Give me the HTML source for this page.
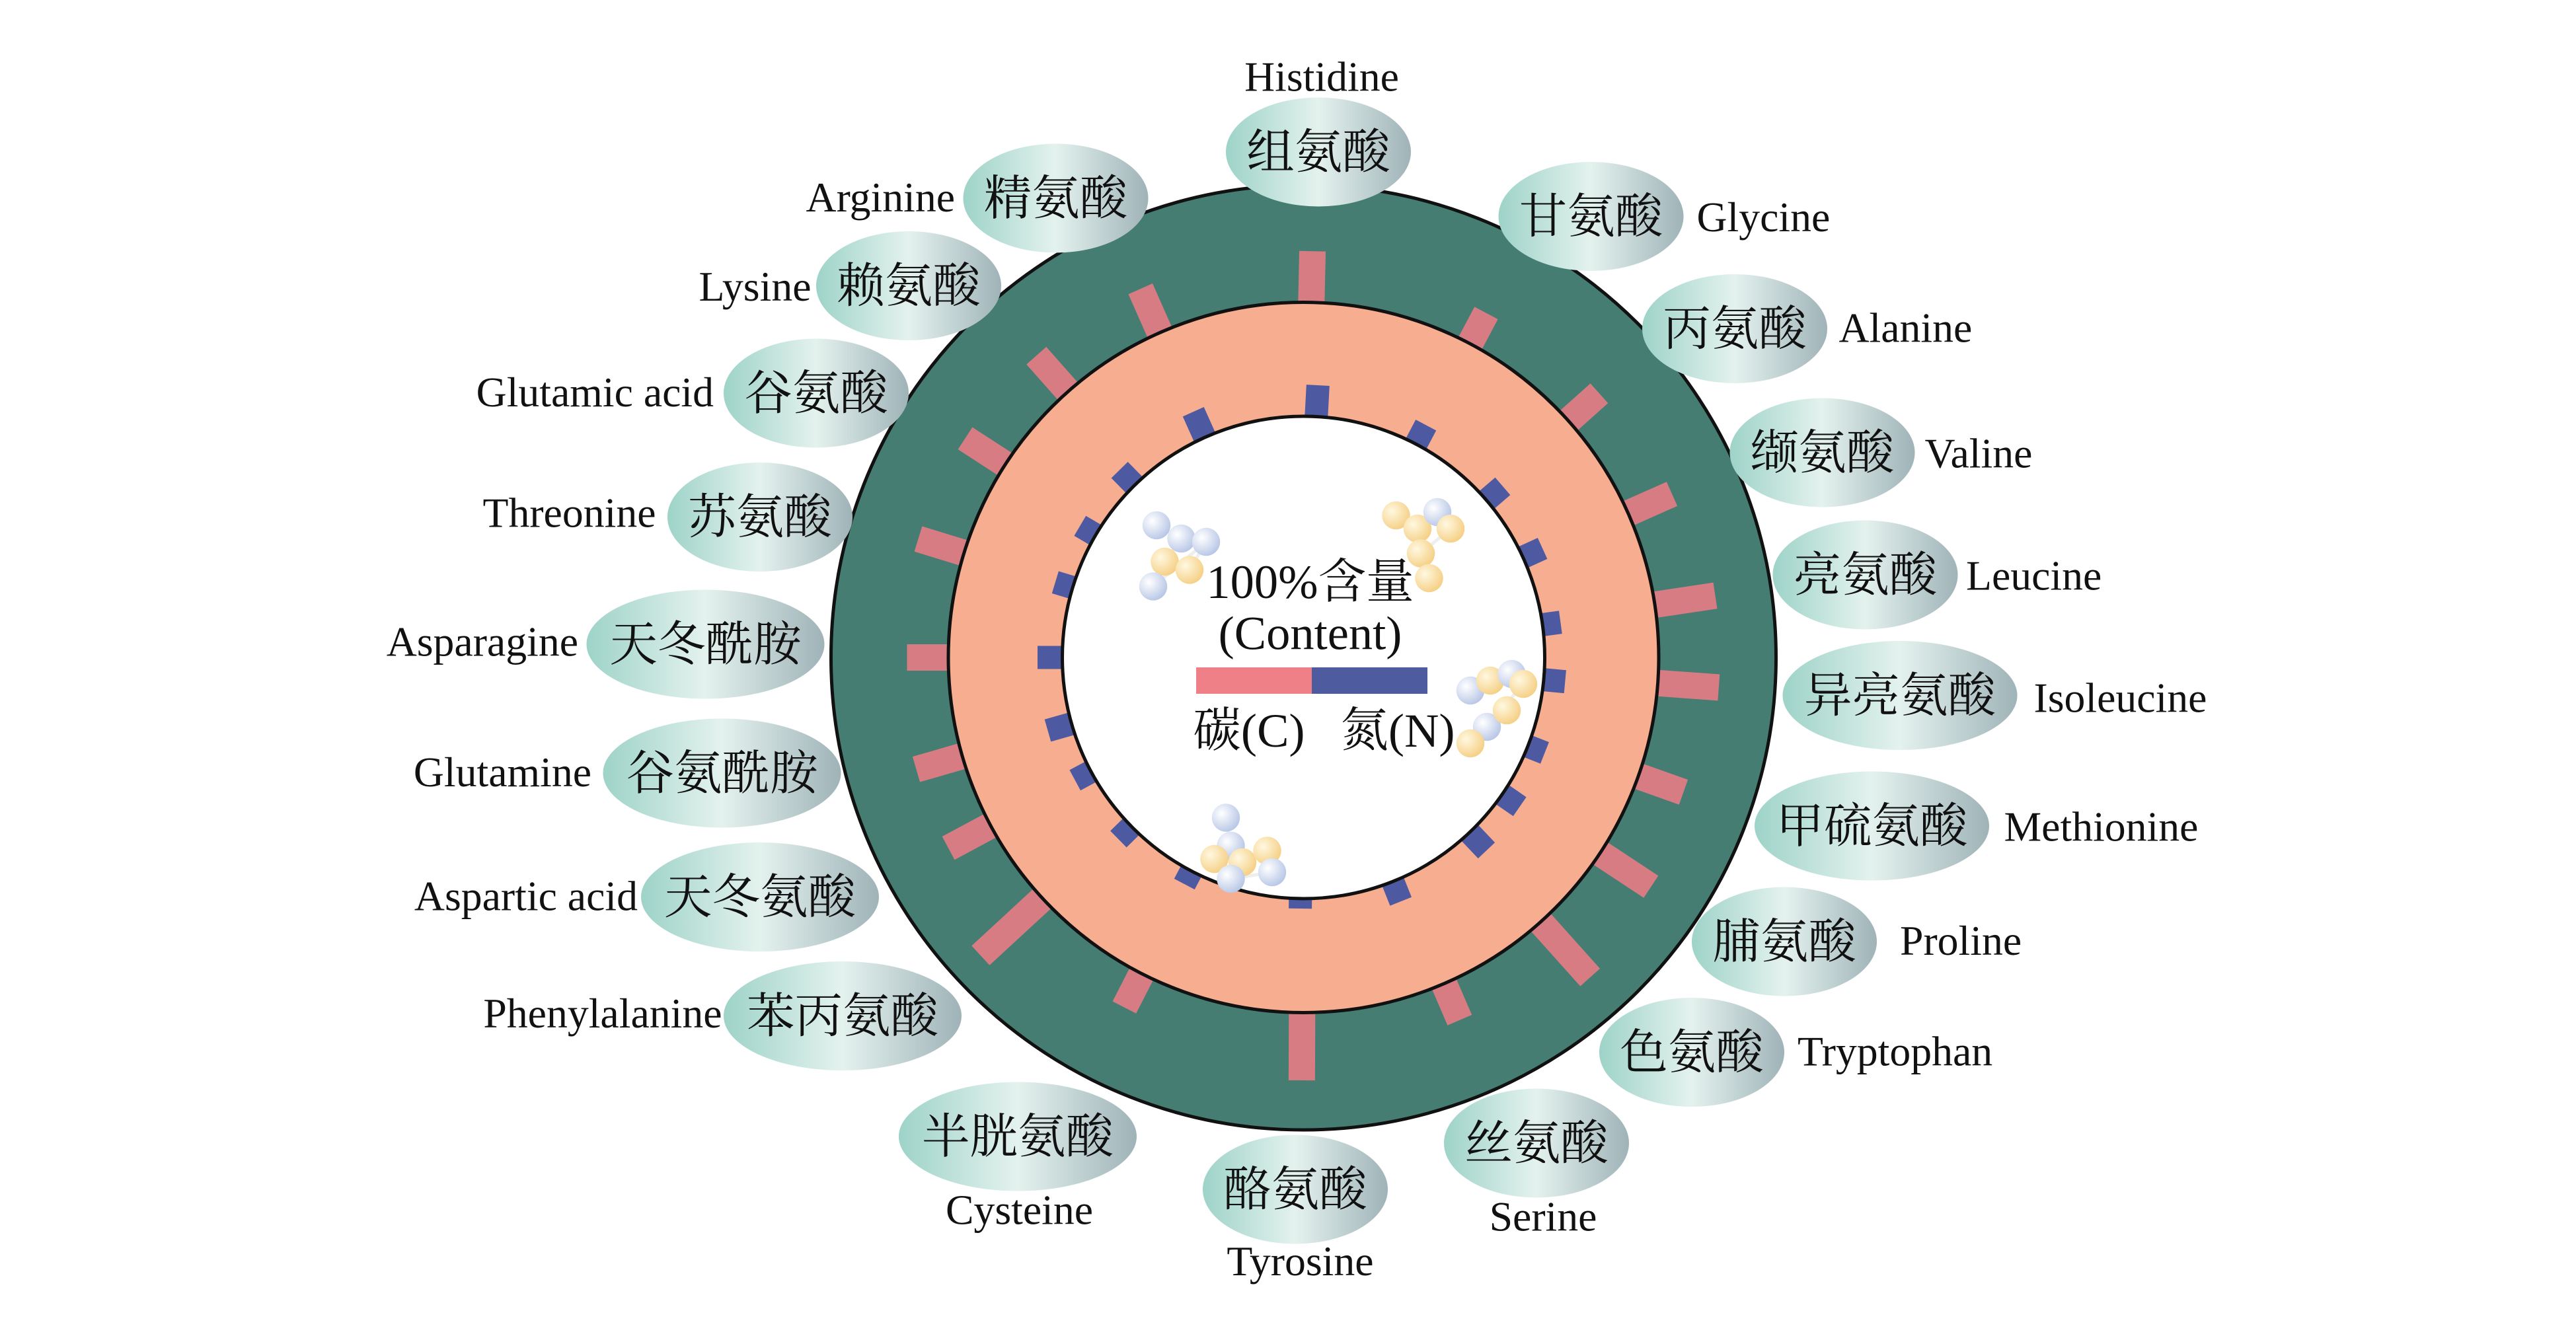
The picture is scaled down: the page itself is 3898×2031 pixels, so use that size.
<!DOCTYPE html>
<html><head><meta charset="utf-8"><style>
html,body{margin:0;padding:0;background:#fff;}
svg{display:block;}
.en{font-family:"Liberation Serif","Noto Serif CJK SC",serif;font-size:25.5px;fill:#111;}
.cn{font-family:"Liberation Serif","Noto Serif CJK SC","Noto Sans CJK SC",serif;font-size:29px;fill:#111;}
</style></head><body>
<svg id="s" width="3898" height="2031" viewBox="0 0 1559.2 812.4" xmlns="http://www.w3.org/2000/svg">
<defs>
<linearGradient id="g" x1="0" y1="0" x2="1" y2="0">
<stop offset="0" stop-color="#9ed3c8"/><stop offset="0.5" stop-color="#e4f2ee"/><stop offset="1" stop-color="#9fb3b8"/>
</linearGradient>
<radialGradient id="mb" cx="0.35" cy="0.35" r="0.7"><stop offset="0" stop-color="#ffffff"/><stop offset="1" stop-color="#b7c6e6"/></radialGradient>
<radialGradient id="my" cx="0.35" cy="0.35" r="0.7"><stop offset="0" stop-color="#fff8e0"/><stop offset="1" stop-color="#f5cf84"/></radialGradient>
</defs>
<circle cx="789" cy="398" r="286" fill="#467d72" stroke="#111" stroke-width="2"/>
<g id="pink"></g>
<circle cx="789" cy="398" r="215" fill="#f6ad90" stroke="#111" stroke-width="2"/>
<g id="blue"></g>
<circle cx="789" cy="398" r="146" fill="#fff" stroke="#111" stroke-width="2"/>
<g id="mol"></g>
<g id="lab"></g>
<text class="cn" x="793" y="362" text-anchor="middle" style="font-size:29px">100%含量</text>
<text class="en" x="793" y="393" text-anchor="middle" style="font-size:29px">(Content)</text>
<rect x="724" y="404" width="70" height="16" fill="#ef8088"/>
<rect x="794" y="404" width="70" height="16" fill="#4f5b9f"/>
<text class="cn" x="756" y="452" text-anchor="middle" style="font-size:29px">碳(C)</text>
<text class="cn" x="846" y="452" text-anchor="middle" style="font-size:29px">氮(N)</text>
</svg>
<script>
var NS="http://www.w3.org/2000/svg",cx=789,cy=398;
function el(t,a,p){var e=document.createElementNS(NS,t);for(var k in a)e.setAttribute(k,a[k]);p.appendChild(e);return e;}
var pink=[[794,171,32],[894,200,22],[958,247,26],[1003,303,30],[1022,363,38],[1024,415,38],[1009,476,30],[989,530,38],[952,580,46],[882,614,25],[788,642,42],[682,607,24],[607,566,52],[586,507,30],[564,463,30],[559,398,26],[568,330,30],[596,273,30],[635,224,30],[697,190,30]];
var gp=document.getElementById('pink');
pink.forEach(function(b){var dx=b[0]-cx,dy=b[1]-cy;var a=Math.atan2(dx,-dy)*180/Math.PI;
el('rect',{x:cx-8,y:cy-214-b[2],width:16,height:b[2],fill:'#d87c83',transform:'rotate('+a+' '+cx+' '+cy+')'},gp);});
var blue=[[797,247,18],[858,267,12],[903,300,12],[927,335,12],[935,378,10],[940,412,12],[933,455,10],[918,487,12],[898,513,14],[848,546,12],[787,552,5],[717,535,8],[680,505,10],[655,470,10],[642,440,14],[634,398,14],[647,355,10],[660,322,10],[686,293,12],[728,262,16]];
var gb=document.getElementById('blue');
blue.forEach(function(b){var dx=b[0]-cx,dy=b[1]-cy;var a=Math.atan2(dx,-dy)*180/Math.PI;
el('rect',{x:cx-7,y:cy-147-b[2],width:14,height:b[2]+3,fill:'#4d5aa2',transform:'rotate('+a+' '+cx+' '+cy+')'},gb);});
var labs=[
['组氨酸',798,92,56,'Histidine',800,55,'middle'],
['甘氨酸',963,131,56,'Glycine',1027,140,'start'],
['丙氨酸',1050,199,56,'Alanine',1113,207,'start'],
['缬氨酸',1103,274,56,'Valine',1165,283,'start'],
['亮氨酸',1129,348,56,'Leucine',1190,357,'start'],
['异亮氨酸',1150,421,71,'Isoleucine',1231,431,'start'],
['甲硫氨酸',1133,500,71,'Methionine',1213,509,'start'],
['脯氨酸',1080,570,56,'Proline',1150,578,'start'],
['色氨酸',1024,637,56,'Tryptophan',1088,645,'start'],
['丝氨酸',930,692,56,'Serine',934,745,'middle'],
['酪氨酸',784,720,56,'Tyrosine',787,772,'middle'],
['半胱氨酸',616,688,72,'Cysteine',617,741,'middle'],
['苯丙氨酸',510,615,72,'Phenylalanine',437,622,'end'],
['天冬氨酸',460,543,72,'Aspartic acid',386,551,'end'],
['谷氨酰胺',437,468,72,'Glutamine',358,476,'end'],
['天冬酰胺',427,390,72,'Asparagine',350,397,'end'],
['苏氨酸',460,313,56,'Threonine',397,319,'end'],
['谷氨酸',494,238,56,'Glutamic acid',432,246,'end'],
['赖氨酸',550,173,56,'Lysine',491,182,'end'],
['精氨酸',639,120,56,'Arginine',578,128,'end']];
var gl=document.getElementById('lab');
labs.forEach(function(l){el('ellipse',{cx:l[1],cy:l[2],rx:l[3],ry:33,fill:'url(#g)'},gl);
var t=el('text',{x:l[1],y:l[2]+10,'text-anchor':'middle','class':'cn'},gl);t.textContent=l[0];
var u=el('text',{x:l[5],y:l[6],'text-anchor':l[7],'class':'en'},gl);u.textContent=l[4];});
var gm=document.getElementById('mol');
var mols=[[[700,318,'b'],[715,326,'b'],[705,340,'y'],[720,345,'y'],[730,328,'b'],[698,355,'b']],
[[845,312,'y'],[858,320,'y'],[870,310,'b'],[878,320,'y'],[860,335,'y'],[865,350,'y']],
[[890,418,'b'],[902,412,'y'],[915,408,'b'],[922,414,'y'],[900,440,'b'],[912,430,'y'],[890,450,'y']],
[[742,495,'b'],[745,512,'b'],[735,520,'y'],[752,522,'y'],[767,515,'y'],[770,528,'b'],[745,532,'b']]];
mols.forEach(function(m){for(var i=1;i<m.length;i++)el('line',{x1:m[i-1][0],y1:m[i-1][1],x2:m[i][0],y2:m[i][1],stroke:'#eee','stroke-width':2},gm);
m.forEach(function(p){el('circle',{cx:p[0],cy:p[1],r:8.5,fill:p[2]=='b'?'url(#mb)':'url(#my)'},gm);});});
</script>
</body></html>
